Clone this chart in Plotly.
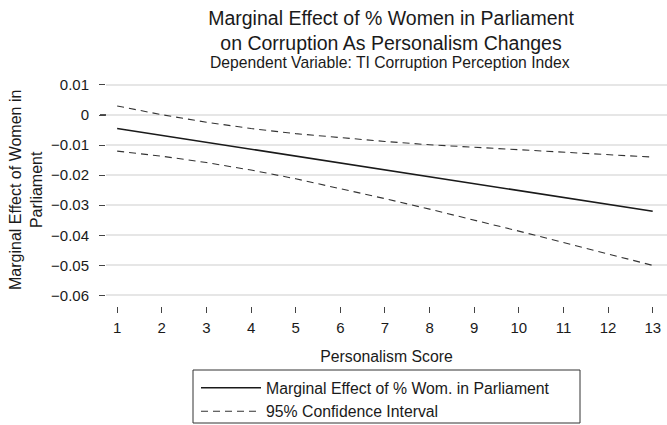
import plotly.graph_objects as go

# personalism score (x) and estimates
personalism = [1, 2, 3, 4, 5, 6, 7, 8, 9, 10, 11, 12, 13]
marginal_effect = [-0.0045, -0.0068, -0.0091, -0.0114, -0.0137, -0.0160, -0.0183,
                   -0.0206, -0.0228, -0.0251, -0.0274, -0.0297, -0.0320]
ci_upper = [0.0030, 0.0001, -0.0024, -0.0045, -0.0062, -0.0076, -0.0088,
            -0.0099, -0.0107, -0.0116, -0.0124, -0.0132, -0.0140]
ci_lower = [-0.0120, -0.0137, -0.0158, -0.0183, -0.0212, -0.0244, -0.0278,
            -0.0313, -0.0349, -0.0386, -0.0424, -0.0462, -0.0500]

y_ticks = [0.01, 0, -0.01, -0.02, -0.03, -0.04, -0.05, -0.06]
y_ticklabels = ["0.01", "0", "\u22120.01", "\u22120.02", "\u22120.03",
                "\u22120.04", "\u22120.05", "\u22120.06"]

FONT = "Liberation Sans, Arial, sans-serif"
INK = "#1a1a1a"
W, H = 667, 425
LEFT, TOP, BOTTOM = 106, 75, 119
plot_w = W - LEFT
plot_h = H - TOP - BOTTOM


def px_x(px):
    return (px - LEFT) / plot_w


def px_y(py):
    return (H - BOTTOM - py) / plot_h


fig = go.Figure()

fig.add_trace(go.Scatter(
    x=personalism, y=marginal_effect, mode="lines",
    name="Marginal Effect of % Wom. in Parliament",
    line=dict(color=INK, width=1.6),
))
fig.add_trace(go.Scatter(
    x=personalism, y=ci_upper, mode="lines",
    name="95% Confidence Interval",
    line=dict(color="#333333", width=1.1, dash="7px,5px"),
))
fig.add_trace(go.Scatter(
    x=personalism, y=ci_lower, mode="lines",
    name="95% Confidence Interval", showlegend=False,
    line=dict(color="#333333", width=1.1, dash="7px,5px"),
))

# zero reference line, runs slightly past the left edge like the original
fig.add_shape(type="line", xref="paper", yref="y", x0=px_x(100), x1=1, y0=0, y1=0,
              line=dict(color=INK, width=1.6), layer="below")

# legend frame (wider than plotly's own legend box)
fig.add_shape(type="rect", xref="paper", yref="paper",
              x0=px_x(193), x1=px_x(580), y0=px_y(423), y1=px_y(370),
              line=dict(color="#333", width=1), fillcolor="rgba(0,0,0,0)")

fig.add_annotation(
    text="Dependent Variable: TI Corruption Perception Index",
    xref="paper", yref="paper", x=px_x(390), y=px_y(62.5),
    showarrow=False, font=dict(size=15.7, color=INK, family=FONT),
    xanchor="center", yanchor="middle",
)

fig.add_annotation(
    text="Marginal Effect of Women in<br>Parliament",
    xref="paper", yref="paper", x=px_x(25.5), y=0.5, textangle=-90,
    showarrow=False, font=dict(size=16, color=INK, family=FONT),
    xanchor="center", yanchor="middle",
)

fig.update_layout(
    width=W, height=H,
    margin=dict(l=LEFT, r=0, t=TOP, b=BOTTOM, autoexpand=False),
    paper_bgcolor="white", plot_bgcolor="white",
    font=dict(family=FONT, color=INK, size=15),
    title=dict(
        text="Marginal Effect of % Women in Parliament<br>on Corruption As Personalism Changes",
        x=px_x(391), xref="paper", xanchor="center",
        y=1 - 25 / H, yref="container", yanchor="middle",
        font=dict(size=19.5, color=INK, family=FONT),
    ),
    xaxis=dict(
        range=[0.75, 13.32], tickvals=personalism,
        showgrid=False, zeroline=False, showline=False, automargin=False,
        ticks="outside", ticklen=6, tickcolor="#444", tickwidth=1,
        ticklabelstandoff=2,
        tickfont=dict(size=15),
        title=dict(text="Personalism Score", font=dict(size=15.8)),
    ),
    yaxis=dict(
        range=[-0.0635, 0.0133], tickvals=y_ticks, ticktext=y_ticklabels,
        showgrid=True, gridcolor="#e6e6e6", gridwidth=1.5,
        zeroline=False, showline=False, automargin=False,
        ticks="outside", ticklen=6, tickcolor="#444", tickwidth=1,
        ticklabelstandoff=7,
        tickfont=dict(size=15),
    ),
    legend=dict(
        x=px_x(196), y=px_y(371),
        xanchor="left", yanchor="top",
        borderwidth=0, bgcolor="rgba(0,0,0,0)",
        font=dict(size=15.8), itemwidth=60, tracegroupgap=0,
    ),
    showlegend=True,
)

fig.write_html("out.html", config={"displayModeBar": False},
               post_script="document.body.style.margin='0';")
